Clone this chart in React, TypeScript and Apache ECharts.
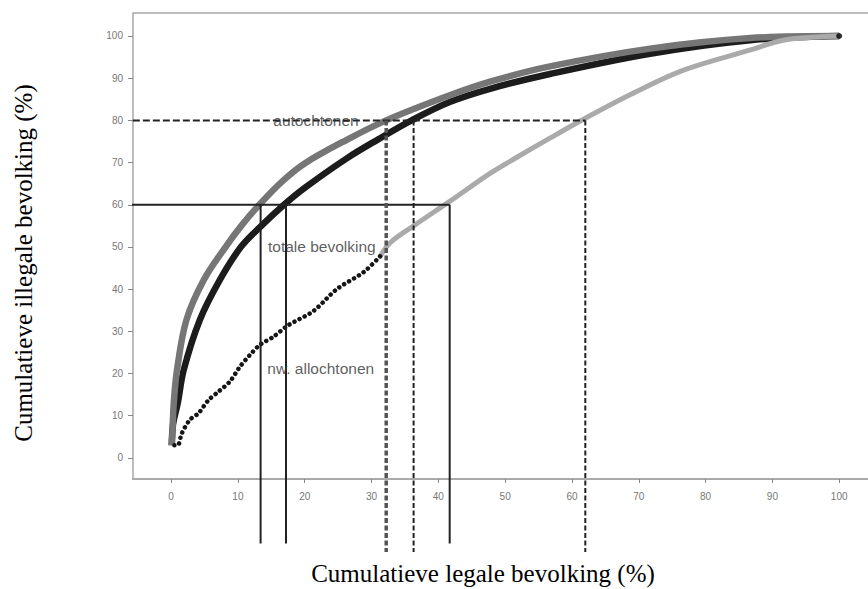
import React, { useEffect, useRef } from "react";
import * as echarts from "echarts";

// Tick values
const xTicks = [0, 10, 20, 30, 40, 50, 60, 70, 80, 90, 100];
const yTicks = [0, 10, 20, 30, 40, 50, 60, 70, 80, 90, 100];

// Curves: cumulative legal population (%) vs cumulative illegal population (%)
const autochtonenX = [0.1, 0.2, 0.4, 0.9, 2.3, 4.9, 8.2, 10.5, 13.2, 16.6, 20, 26.3, 32.2, 41.8, 48, 56.7, 71.7, 86.7, 100];
const autochtonenY = [3, 6, 13, 21, 32.7, 42.2, 50.1, 55, 60, 65.5, 69.8, 75.4, 80, 86.0, 89.3, 92.8, 97.0, 99.5, 100];

const totaleX = [0.1, 0.3, 1.0, 1.9, 4.3, 7.3, 10.5, 13.5, 16.9, 20, 26.3, 31, 36, 41.8, 48, 56.7, 71.7, 86.7, 100];
const totaleY = [3, 8, 13, 20.9, 32.7, 42.2, 50.1, 55, 60, 64, 71, 75.5, 80, 84.4, 87.6, 91.0, 95.8, 99.0, 100];

const nwAllochtonenX = [0.5, 1.0, 1.6, 2.8, 4.1, 5.6, 7.1, 8.8, 10.3, 11.8, 13.3, 15.3, 17.6, 21.3, 24.8, 28.8, 31.3, 32.8, 36.3, 41.7, 47.8, 51.7, 56.5, 62.0, 69, 76.7, 86.7, 91.6, 96, 100];
const nwAllochtonenY = [3, 3, 5.8, 9.0, 10.6, 13.7, 15.7, 18.1, 21.6, 24.4, 26.8, 28.7, 31.5, 34.8, 40.0, 44.0, 47.8, 51.0, 55.0, 60.8, 67.5, 71.2, 75.6, 80.5, 86.3, 91.9, 96.7, 99, 99.7, 100];

// Reading lines: x where curves reach 60% (solid) and 80% (dashed)
const solidLevel = 60;
const solidX = [13.4, 17.2, 41.7];
const dashedLevel = 80;
const dashedX = [32.2, 36.3, 62.0];

// Text
const curveLabels = ["autochtonen", "totale bevolking", "nw. allochtonen"];
const xTitle = "Cumulatieve legale bevolking (%)";
const yTitle = "Cumulatieve illegale bevolking (%)";

// Layout (not data)
const SOLID_LEFT = -15.4;
const SOLID_BOTTOM = -20.3;
const DASH_LEFT = -16.2;
const DASH_BOTTOM = -22.3;
const labelAnchors = [
  [15.3, 79.9],
  [14.5, 50.0],
  [14.4, 21.1],
];
const dashedWidths = [3.5, 2, 2];
const dashedColors = ["#555", "#222", "#222"];

const pairs = (xs: number[], ys: number[]) => xs.map((x, i) => [x, ys[i]]);

export default function App() {
  const ref = useRef<HTMLDivElement>(null);

  useEffect(() => {
    const chart = echarts.init(ref.current!, null, { renderer: "svg" });

    const nw = pairs(nwAllochtonenX, nwAllochtonenY);
    const split = nwAllochtonenY.findIndex((v) => v >= 47);
    const nwLow = nw.slice(0, split + 1);
    const nwHigh = nw.slice(split);

    const series: any[] = [
      {
        type: "line",
        data: pairs(totaleX, totaleY),
        smooth: 0.35,
        symbol: "none",
        lineStyle: { color: "#1c1c1c", width: 6.5 },
        z: 2,
        silent: true,
      },
      {
        type: "line",
        data: pairs(autochtonenX, autochtonenY),
        smooth: 0.35,
        symbol: "none",
        lineStyle: { color: "#767676", width: 6.5 },
        z: 3,
        silent: true,
      },
      {
        type: "line",
        data: nwHigh,
        smooth: 0.35,
        symbol: "none",
        lineStyle: { color: "#aaaaaa", width: 5 },
        z: 3,
        silent: true,
      },
      {
        type: "line",
        data: nwLow,
        smooth: 0.3,
        symbol: "none",
        lineStyle: { color: "#151515", width: 4.5, type: [0.1, 5.6], cap: "round" },
        z: 3,
        silent: true,
      },
      {
        type: "scatter",
        data: [[totaleX[totaleX.length - 1], totaleY[totaleY.length - 1]]],
        symbolSize: 6,
        itemStyle: { color: "#000" },
        z: 4,
        silent: true,
      },
      // solid reading lines at 60%
      {
        type: "line",
        data: [[SOLID_LEFT, solidLevel], [Math.max(...solidX), solidLevel]],
        clip: false,
        symbol: "none",
        lineStyle: { color: "#222", width: 2 },
        z: 5,
        silent: true,
      },
      ...solidX.map((x) => ({
        type: "line",
        data: [[x, solidLevel], [x, SOLID_BOTTOM]],
        clip: false,
        symbol: "none",
        lineStyle: { color: "#222", width: 2 },
        z: 5,
        silent: true,
      })),
      // dashed reading lines at 80%
      {
        type: "line",
        data: [[DASH_LEFT, dashedLevel], [Math.max(...dashedX), dashedLevel]],
        clip: false,
        symbol: "none",
        lineStyle: { color: "#222", width: 2, type: [7, 3] },
        z: 5,
        silent: true,
      },
      ...dashedX.map((x, i) => ({
        type: "line",
        data: [[x, dashedLevel], [x, DASH_BOTTOM]],
        clip: false,
        symbol: "none",
        lineStyle: { color: dashedColors[i], width: dashedWidths[i], type: [5, 2.5] },
        z: 5,
        silent: true,
      })),
      {
        type: "scatter",
        data: curveLabels.map((t, i) => ({ name: t, value: labelAnchors[i] })),
        symbolSize: 0,
        label: {
          show: true,
          formatter: "{b}",
          position: "right",
          distance: 0,
          fontSize: 15.5,
          fontFamily: "Liberation Sans, Arial, sans-serif",
          color: "#333",
        },
        z: 6,
        silent: true,
      },
    ];

    chart.setOption({
      animation: false,
      backgroundColor: "#fff",
      grid: {
        left: 133,
        top: 13,
        width: 773,
        height: 466,
        show: true,
        borderColor: "#a8a8a8",
        borderWidth: 1.5,
        containLabel: false,
        outerBoundsMode: "none",
      },
      xAxis: {
        type: "value",
        min: -5.7,
        max: 110,
        axisLine: { show: true, onZero: false, lineStyle: { color: "#aaa", width: 2 } },
        axisTick: { show: true, customValues: xTicks, length: 4, lineStyle: { color: "#888" } },
        axisLabel: {
          customValues: xTicks,
          fontSize: 10,
          color: "#777",
          margin: 12,
          fontFamily: "Liberation Sans, Arial, sans-serif",
        },
        splitLine: { show: false },
      },
      yAxis: {
        type: "value",
        min: -5,
        max: 105.45,
        axisLine: { show: false, onZero: false },
        axisTick: { show: true, customValues: yTicks, length: 5, lineStyle: { color: "#888" } },
        axisLabel: {
          customValues: yTicks,
          fontSize: 10,
          color: "#777",
          margin: 10,
          fontFamily: "Liberation Sans, Arial, sans-serif",
        },
        splitLine: { show: false },
      },
      graphic: [
        {
          type: "text",
          x: 483,
          y: 573,
          silent: true,
          style: {
            text: xTitle,
            fontSize: 25,
            fontFamily: "Liberation Serif, Times New Roman, serif",
            fill: "#000",
            align: "center",
            verticalAlign: "middle",
            textAlign: "center",
            textVerticalAlign: "middle",
          },
        },
        {
          type: "text",
          x: 23,
          y: 263,
          rotation: Math.PI / 2,
          silent: true,
          style: {
            text: yTitle,
            fontSize: 25,
            fontFamily: "Liberation Serif, Times New Roman, serif",
            fill: "#000",
            align: "center",
            verticalAlign: "middle",
            textAlign: "center",
            textVerticalAlign: "middle",
          },
        },
      ],
      series,
    });

    return () => chart.dispose();
  }, []);

  return (
    <div
      ref={ref}
      style={{ position: "fixed", left: 0, top: 0, width: 868, height: 589, background: "#fff" }}
    />
  );
}
